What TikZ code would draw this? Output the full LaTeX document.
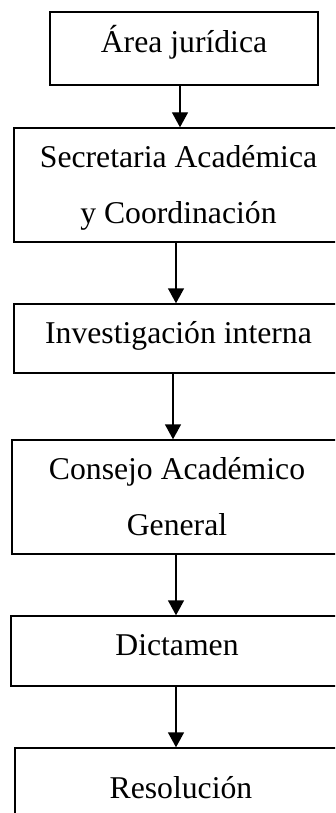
\documentclass[tikz,border=0pt]{standalone}
\usepackage{fontspec}
\setmainfont{Liberation Serif}
\usepackage{tikz}
\usetikzlibrary{arrows.meta,positioning}

\begin{document}
\begin{tikzpicture}[x=1pt,y=1pt,line width=1.4pt,
    caja/.style={draw,inner sep=0pt,text height=22pt,text depth=13pt,
      font=\fontsize{31.7}{56}\selectfont},
    caja2/.style={caja,align=center,text height=89pt},
    flecha/.style={-{Triangle[width=16pt,length=15pt]}}]
          % page
          \useasboundingbox (0,0) rectangle (335,-813);
          \clip (0,0) rectangle (335,-813);
          % boxes
          \node[caja,minimum width=268pt,minimum height=73pt] (juridica) at (184,-48.5) {Área jurídica};
          \node[caja2,minimum width=329pt,minimum height=114pt] (secretaria) at (178.5,-185) {Secretaria Académica\\y Coordinación};
          \node[caja,minimum width=329pt,minimum height=69pt] (investigacion) at (178.5,-338.5) {Investigación interna};
          \node[caja2,minimum width=330pt,minimum height=114pt] (consejo) at (177,-497) {Consejo Académico\\General};
          \node[caja,minimum width=332pt,minimum height=70pt] (dictamen) at (177,-651) {Dictamen};
          \node[caja,minimum width=332pt,minimum height=91pt] (resolucion) at (181,-793.5) {Resolución};
          % arrows
          \draw[flecha] (juridica.south -| 180,0) -- (secretaria.north -| 180,0);
          \draw[flecha] (secretaria.south -| 176,0) -- (investigacion.north -| 176,0);
          \draw[flecha] (investigacion.south -| 173,0) -- (consejo.north -| 173,0);
          \draw[flecha] (consejo.south -| 176,0) -- (dictamen.north -| 176,0);
          \draw[flecha] (dictamen.south -| 176,0) -- (resolucion.north -| 176,0);
\end{tikzpicture}
\end{document}
